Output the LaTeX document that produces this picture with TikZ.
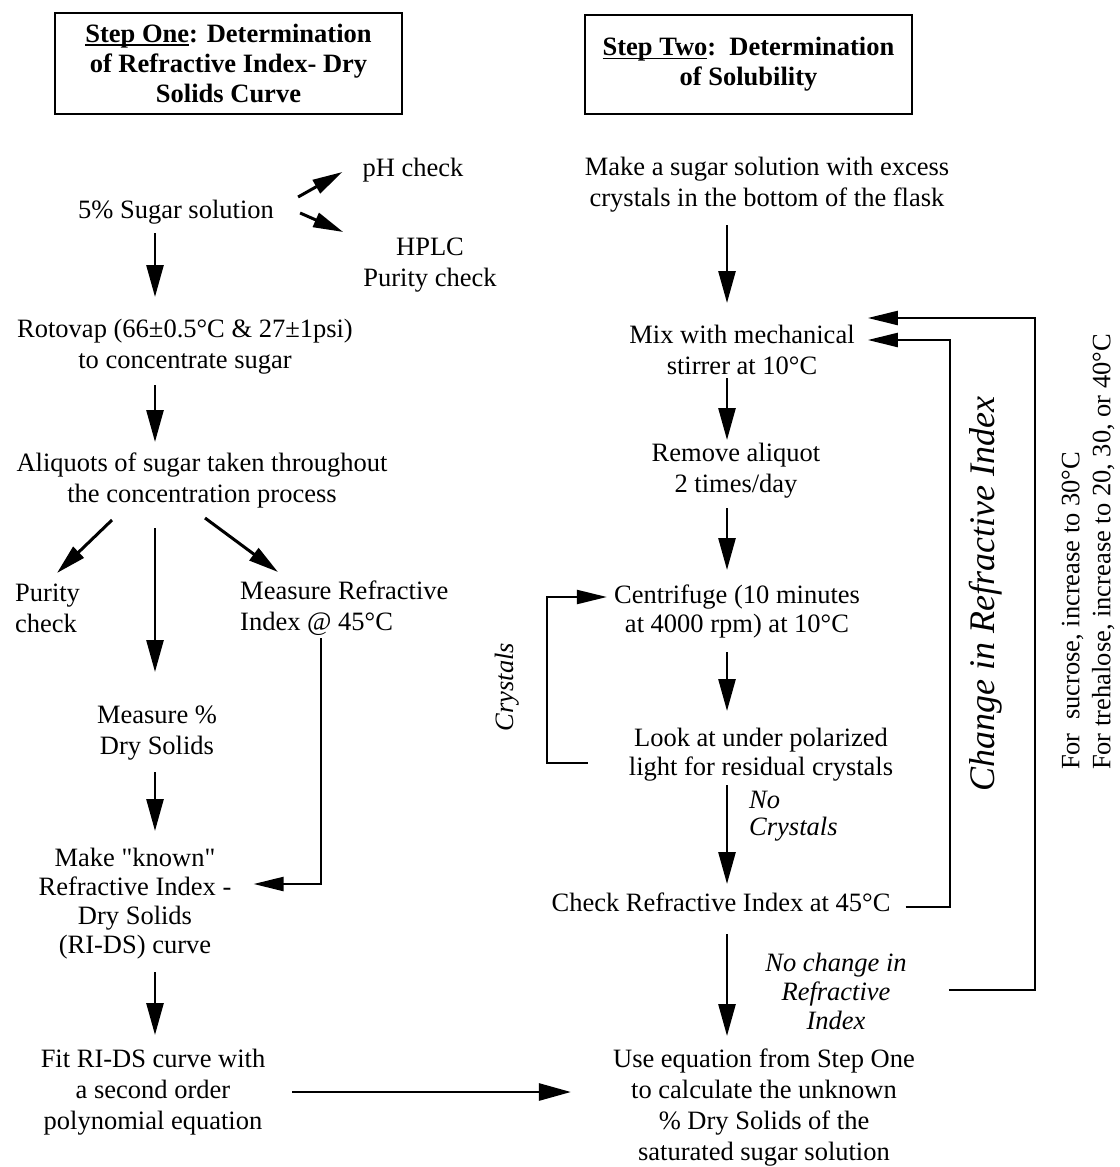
\documentclass[tikz,border=0pt]{standalone}
\usepackage{fontspec}
\setmainfont{Liberation Serif}
\newfontfamily\plainq{Liberation Serif}
\newcommand\ulx[1]{\setbox0\hbox{#1}\rlap{\rule[-3.2pt]{\wd0}{1.4pt}}#1}
\usetikzlibrary{arrows.meta}
\begin{document}
\begin{tikzpicture}[x=1pt,y=-1pt,
  txt/.style={inner sep=0pt, align=center, font=\fontsize{26.5}{31}\selectfont},
  ital/.style={inner sep=0pt, align=center, font=\fontsize{26.5}{29}\selectfont\itshape},
  ttl/.style={draw, line width=2pt, inner sep=0pt, align=center, font=\fontsize{26.5}{30}\selectfont\bfseries},
  arr/.style={line width=2.7pt, -{Triangle[length=32pt,width=17pt]}},
  sarr/.style={line width=3pt, -{Triangle[length=30pt,width=15pt]}},
  fb/.style={line width=2.2pt, -{Triangle[length=30pt,width=14pt]}}]
\useasboundingbox (0,0) rectangle (1119,1167);
\fill[white] (0,0) rectangle (1119,1167);

% titles
\node[ttl, minimum width=347pt, minimum height=101pt] (t1) at (228.5,63.5)
  {\ulx{Step One}: Determination\\of Refractive Index- Dry\\Solids Curve};
\node[ttl, minimum width=327pt, minimum height=99pt] (t2) at (748.5,64.5)
  {\ulx{Step Two}:\ \ Determination\\of Solubility};

% left column
\node[txt] (ph) at (413,170) {pH check};
\node[txt] (sugar) at (176,212) {5\% Sugar solution};
\node[txt] (hplc) at (430,265) {HPLC\\Purity check};
\node[txt] (roto) at (185,346.5) {Rotovap (66±0.5°C \& 27±1psi)\\to concentrate sugar};
\node[txt] (aliq) at (202,480.5) {Aliquots of sugar taken throughout\\the concentration process};
\node[txt, anchor=west, align=left] (pur) at (15,608.5) {Purity\\check};
\node[txt, anchor=west, align=left] (mri) at (240,608.5) {Measure Refractive\\Index @ 45°C};
\node[txt] (mds) at (157,733) {Measure \%\\Dry Solids};
\node[txt, font=\fontsize{26.5}{29}\selectfont] (known) at (135,903.5) {Make {\plainq"}known{\plainq"}\\Refractive Index -\\Dry Solids\\(RI-DS) curve};
\node[txt] (fit) at (153,1092) {Fit RI-DS curve with\\a second order\\polynomial equation};

% right column
\node[txt] (sol) at (767,185) {Make a sugar solution with excess\\crystals in the bottom of the flask};
\node[txt] (mix) at (742,349.5) {Mix with mechanical\\stirrer at 10°C};
\node[txt] (rem) at (736,471) {Remove aliquot\\2 times/day};
\node[txt, font=\fontsize{26.5}{29}\selectfont] (cen) at (737,611) {Centrifuge (10 minutes\\at 4000 rpm) at 10°C};
\node[txt, font=\fontsize{26.5}{29}\selectfont] (look) at (761,754.5) {Look at under polarized\\light for residual crystals};
\node[ital, anchor=west, align=left, font=\fontsize{26.5}{27}\selectfont\itshape] (nocr) at (749,816.5) {No\\Crystals};
\node[txt] (chk) at (721,902) {Check Refractive Index at 45°C};
\node[ital] (nochg) at (836,991) {No change in\\Refractive\\Index};
\node[txt] (use) at (764,1108) {Use equation from Step One\\to calculate the unknown\\\% Dry Solids of the\\saturated sugar solution};
\node[ital, rotate=90] (crys) at (507,687) {Crystals};
\node[ital, rotate=90, font=\fontsize{36}{40}\selectfont\itshape] (chg) at (986,594) {Change in Refractive Index};
\node[txt, rotate=90, align=left] (note) at (1088,552)
  {For\ \ sucrose, increase to 30°C\\For trehalose, increase to 20, 30, or 40°C};

\coordinate (colL) at (155,0);
\coordinate (colR) at (727,0);

% left arrows
\draw[sarr] ([shift={(24,-15)}]sugar.east) -- ([shift={(-20,2)}]ph.west);
\draw[sarr] ([shift={(26,1)}]sugar.east) -- ([shift={(-20,-33)}]hplc.west);
\draw[arr] (colL |- 0,233) -- (colL |- 0,297);
\draw[arr] (colL |- 0,385) -- (colL |- 0,442);
\draw[sarr] ([shift={(-90,39.5)}]aliq.center) -- ([shift={(42,-35.5)}]pur.west);
\draw[arr] (colL |- 0,528) -- (colL |- 0,672);
\draw[sarr] ([shift={(3,37.5)}]aliq.center) -- ([shift={(38,-36.5)}]mri.west);
\draw[fb] ([shift={(81,29.5)}]mri.west) |- ([shift={(22,-19.5)}]known.east);
\draw[arr] (colL |- 0,772) -- (colL |- 0,831);
\draw[arr] (colL |- 0,972) -- (colL |- 0,1035);
\draw[arr, shorten <=27pt, shorten >=42pt] (fit.east) -- (fit.east -| use.west);

% right arrows
\draw[arr] (colR |- 0,225) -- (colR |- 0,303);
\draw[arr] (colR |- 0,378) -- (colR |- 0,440);
\draw[arr] (colR |- 0,508) -- (colR |- 0,570);
\draw[arr] (colR |- 0,652) -- (colR |- 0,711);
\draw[arr] (colR |- 0,785) -- (colR |- 0,884);
\draw[arr] (colR |- 0,934) -- (colR |- 0,1036);
\draw[fb] ([shift={(-41,8.5)}]look.west) -| ([shift={(-67,-14)}]cen.west) -- ([shift={(-7,-14)}]cen.west);
\draw[fb] ([shift={(15,5)}]chk.east) -| ([shift={(95,-9.5)}]mix.east) -- ([shift={(13,-9.5)}]mix.east);
\draw[fb] ([shift={(42,-1)}]nochg.east) -| ([shift={(180,-31.5)}]mix.east) -- ([shift={(13,-31.5)}]mix.east);
\end{tikzpicture}
\end{document}
